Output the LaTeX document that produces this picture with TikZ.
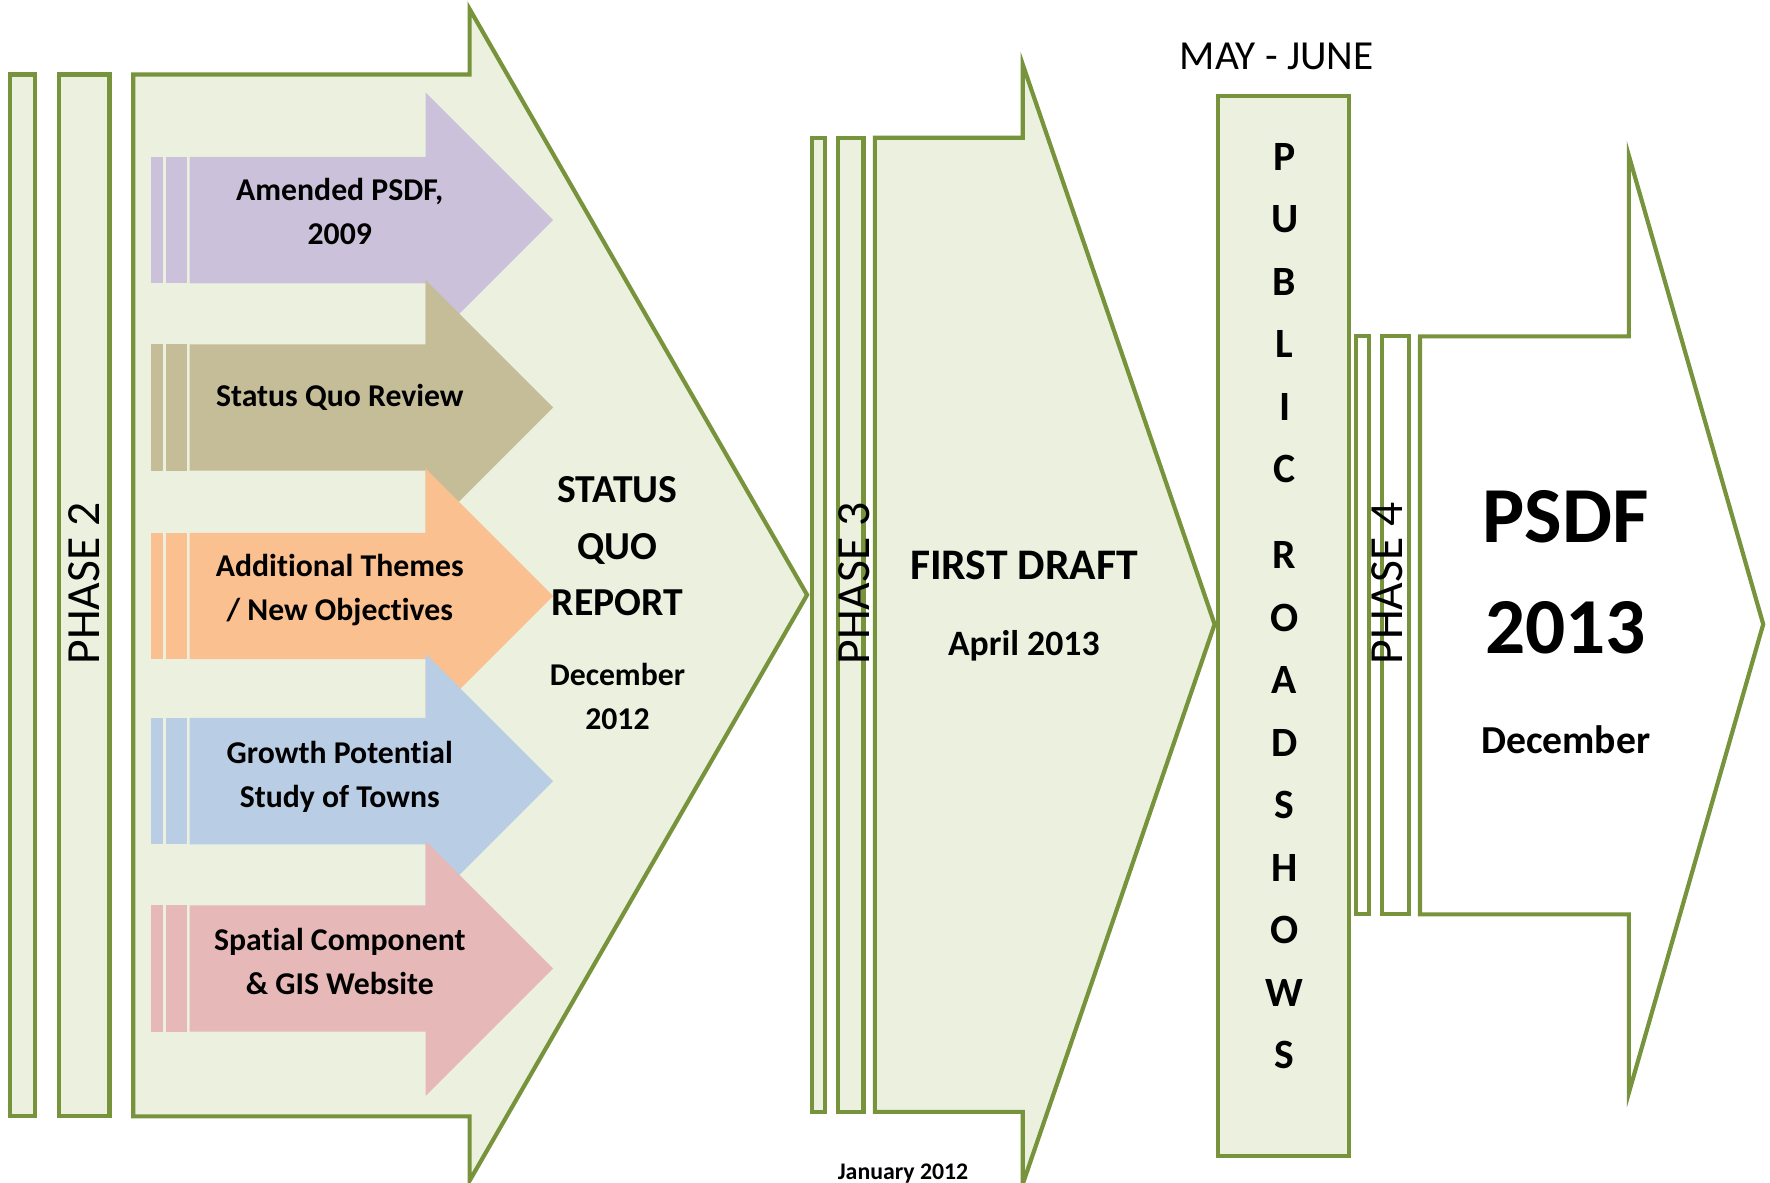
\documentclass[tikz,border=0pt]{standalone}
\usepackage{fontspec}
\setmainfont{Carlito}[Ligatures=NoCommon]
\definecolor{leaf}{RGB}{119,147,60}
\definecolor{leaffill}{RGB}{235,241,222}
\definecolor{lilac}{RGB}{204,193,218}
\definecolor{khaki}{RGB}{196,189,151}
\definecolor{peach}{RGB}{250,192,144}
\definecolor{sky}{RGB}{185,205,229}
\definecolor{rose}{RGB}{230,185,184}
\begin{document}
\begin{tikzpicture}[x=0.1mm,y=-0.1mm,
  bar/.style={draw=leaf,line width=1.05pt,fill=leaffill},
  whitebar/.style={draw=leaf,line width=1.05pt,fill=white},
  txt/.style={inner sep=0pt,align=center,font=\bfseries\fontsize{8}{11.1}\selectfont},
  phaselbl/.style={inner sep=0pt,rotate=90,font=\fontsize{12}{14}\selectfont}]
\useasboundingbox (0,0) rectangle (1568,1048);
\draw[bar] (9,66) rectangle (31,989);
\draw[bar] (52,66) rectangle (97,989);
\draw[bar] (118,66) -- (416,66) -- (416,8) -- (715,527) -- (416,1046) -- (416,989) -- (118,989) -- cycle;
\node[phaselbl] (phasetwo) at (75,517) {PHASE 2};
\foreach \y/\c in {195/lilac,361/khaki,528/peach,692/sky,858/rose}{
  \fill[\c] (134,\y-56) rectangle (144,\y+56);
  \fill[\c] (147,\y-56) rectangle (166,\y+56);
  \fill[\c] (168,\y-56) -- (377,\y-56) -- (377,\y-113) -- (490,\y) -- (377,\y+113) -- (377,\y+56) -- (168,\y+56) -- cycle;
}
\node[txt] (amended) at (301,187) {Amended PSDF,\\2009};
\node[txt] (review) at (301,352) {Status Quo Review};
\node[txt] (themes) at (301,523) {Additional Themes\\/ New Objectives};
\node[txt] (growth) at (301,688) {Growth Potential\\Study of Towns};
\node[txt] (spatial) at (301,852) {Spatial Component\\\& GIS Website};
\node[txt,font=\bfseries\fontsize{10}{14.2}\selectfont] (sqreport) at (547,484) {STATUS\\QUO\\REPORT};
\node[txt] (sqdate) at (547,617) {December\\2012};
\draw[bar] (719,122) rectangle (731,985);
\draw[bar] (742,122) rectangle (765,985);
\draw[bar] (775,122) -- (906,122) -- (906,57) -- (1076,553) -- (906,1049) -- (906,985) -- (775,985) -- cycle;
\node[phaselbl] (phasethree) at (757,517) {PHASE 3};
\node[txt,font=\bfseries\fontsize{11}{13}\selectfont] (draft) at (907,501) {FIRST DRAFT};
\node[txt,font=\bfseries\fontsize{9}{11}\selectfont] (draftdate) at (907,572) {April 2013};
\node[txt,font=\bfseries\fontsize{6}{8}\selectfont] (jan) at (800,1040) {January 2012};
\node[inner sep=0pt,font=\fontsize{10.4}{12}\selectfont] (mayjune) at (1131,50) {MAY - JUNE};
\draw[bar] (1079,85) rectangle (1195,1024);
\node[txt,font=\bfseries\fontsize{10.5}{15.76}\selectfont] (roadshows) at (1138,537) {P\\U\\B\\L\\I\\C\\[5.9pt]R\\O\\A\\D\\S\\H\\O\\W\\S};
\draw[whitebar] (1201,298) rectangle (1213,810);
\draw[whitebar] (1224,298) rectangle (1248,810);
\draw[whitebar] (1258,298) -- (1443,298) -- (1443,138) -- (1562,553) -- (1443,968) -- (1443,810) -- (1258,810) -- cycle;
\node[phaselbl] (phasefour) at (1229,517) {PHASE 4};
\node[txt,font=\bfseries\fontsize{20}{24}\selectfont] (psdf) at (1387,458) {PSDF};
\node[txt,font=\bfseries\fontsize{20}{24}\selectfont] (psdfyear) at (1387,556) {2013};
\node[txt,font=\bfseries\fontsize{10}{12}\selectfont] (psdfdate) at (1387,655) {December};
\end{tikzpicture}
\end{document}
